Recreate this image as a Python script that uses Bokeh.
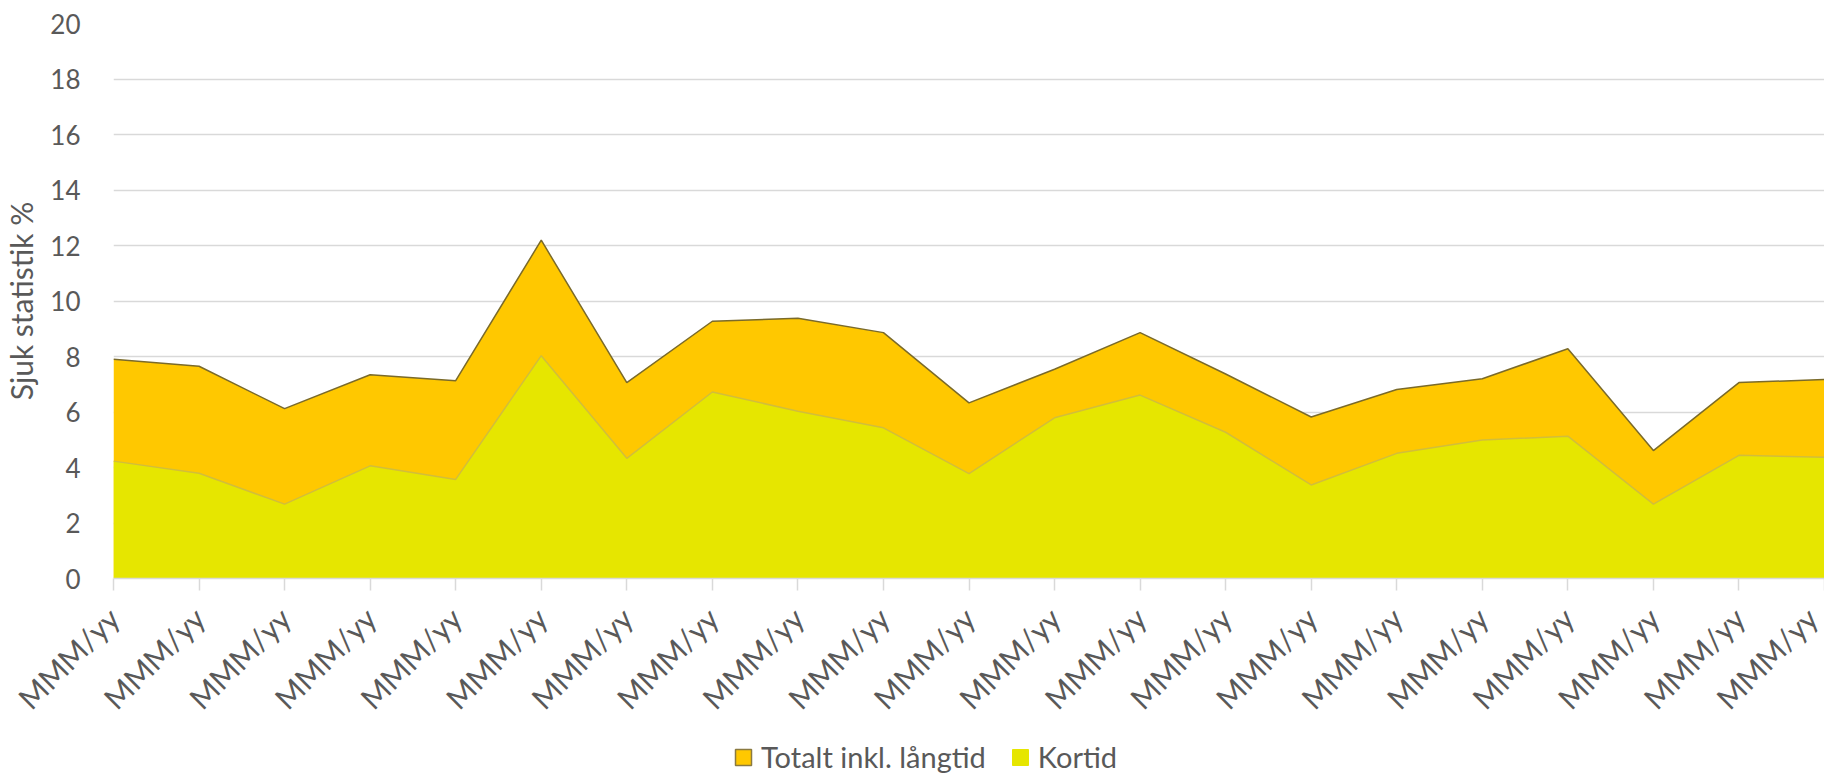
import math
from bokeh.plotting import figure
from bokeh.layouts import column
from bokeh.models import FixedTicker, Legend, LegendItem, ColumnDataSource, Range1d
from bokeh.embed import file_html
from bokeh.resources import INLINE

# ---- data ----
months = ["MMM/yy"] * 21
totalt = [7.9, 7.65, 6.12, 7.34, 7.13, 12.19, 7.06, 9.27, 9.38, 8.86, 6.33,
          7.54, 8.86, 7.37, 5.82, 6.81, 7.2, 8.28, 4.61, 7.06, 7.17]
kortid = [4.23, 3.79, 2.68, 4.06, 3.57, 8.03, 4.33, 6.72, 6.03, 5.43, 3.78,
          5.79, 6.61, 5.27, 3.37, 4.51, 4.99, 5.13, 2.68, 4.44, 4.37]
y_ticks = [0, 2, 4, 6, 8, 10, 12, 14, 16, 18, 20]
series_names = ["Totalt inkl. långtid", "Kortid"]

x = list(range(len(months)))
src = ColumnDataSource(dict(x=x, totalt=totalt, kortid=kortid, zero=[0] * len(x)))

FONT = "Lato"
TXT = "#595959"
GRID = "#D9D9D9"
C_TOT = "#FFC800"
C_KORT = "#E6E600"

p = figure(frame_width=1711, frame_height=555, output_backend="svg",
           toolbar_location=None,
           x_range=Range1d(0, len(x) - 1), y_range=Range1d(0, 20),
           min_border_left=103, min_border_right=0, min_border_top=23,
           min_border_bottom=162)
p.outline_line_color = None
p.background_fill_color = "white"
p.border_fill_color = "white"

p.varea(x="x", y1="zero", y2="totalt", source=src, fill_color=C_TOT)
p.line(x="x", y="totalt", source=src, line_color="#7A6A2A", line_width=1.5)
p.varea(x="x", y1="zero", y2="kortid", source=src, fill_color=C_KORT)
p.line(x="x", y="kortid", source=src, line_color="#D2BE3A", line_width=1.5)

# axes
xa = p.xaxis[0]
xa.ticker = FixedTicker(ticks=x)
xa.major_label_overrides = {i: m for i, m in zip(x, months)}
xa.major_label_orientation = math.pi / 4
xa.major_label_text_font = FONT
xa.major_label_text_font_size = "30px"
xa.major_label_text_color = TXT
xa.major_label_standoff = 22
xa.axis_line_color = GRID
xa.axis_line_width = 1.5
xa.major_tick_line_color = GRID
xa.major_tick_line_width = 1.5
xa.major_tick_out = 12
xa.major_tick_in = 0
xa.minor_tick_line_color = None

ya = p.yaxis[0]
ya.ticker = FixedTicker(ticks=y_ticks)
ya.major_label_text_font = FONT
ya.major_label_text_font_size = "26px"
ya.major_label_text_color = TXT
ya.major_label_standoff = 27
ya.axis_line_color = None
ya.major_tick_line_color = None
ya.minor_tick_line_color = None
ya.axis_label = "Sjuk statistik %"
ya.axis_label_text_font = FONT
ya.axis_label_text_font_size = "30px"
ya.axis_label_text_font_style = "normal"
ya.axis_label_text_color = TXT
ya.axis_label_standoff = 8

p.xgrid.grid_line_color = None
p.ygrid.grid_line_color = GRID
p.ygrid.grid_line_width = 1.5

# legend strip (its own small figure under the chart)
q = figure(width=1814, height=34, output_backend="svg", toolbar_location=None,
           x_range=Range1d(0, len(x) - 1), y_range=Range1d(0, 20),
           x_axis_location=None, y_axis_location=None,
           min_border_left=0, min_border_right=0, min_border_top=0,
           min_border_bottom=0)
q.grid.visible = False
q.outline_line_color = None
q.border_fill_color = "white"
sw1 = q.quad(left="x", right="x", bottom="zero", top="totalt", source=src,
             fill_color=C_TOT, line_color="#8A7A40", line_width=1.5)
sw2 = q.quad(left="x", right="x", bottom="zero", top="kortid", source=src,
             fill_color=C_KORT, line_color=C_KORT, line_width=1)
sw1.visible = False
sw2.visible = False

legend = Legend(items=[LegendItem(label=series_names[0], renderers=[sw1]),
                       LegendItem(label=series_names[1], renderers=[sw2])],
                orientation="horizontal", location=(620, 0),
                label_text_font=FONT, label_text_font_size="29px",
                label_text_color=TXT, glyph_width=20, glyph_height=20,
                label_standoff=8, spacing=24, padding=0, margin=0,
                border_line_color=None, background_fill_alpha=0,
                inactive_fill_alpha=0)
q.add_layout(legend, "center")

open("out.html", "w").write(file_html(column(p, q), INLINE))
